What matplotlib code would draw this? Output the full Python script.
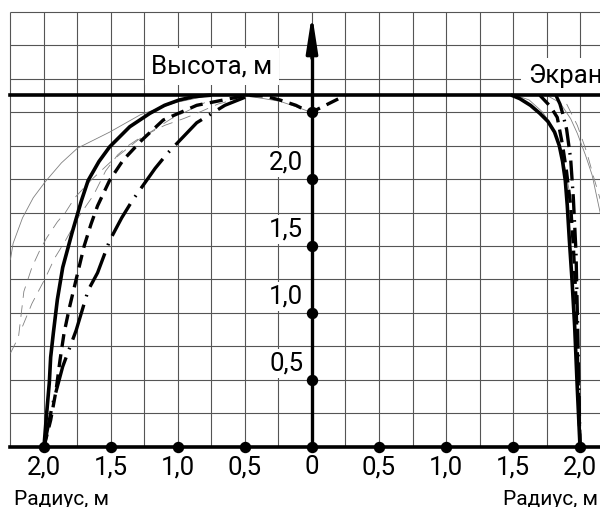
import numpy as np
import matplotlib
matplotlib.use("Agg")
import matplotlib.pyplot as plt

plt.rcParams['font.family'] = ['Roboto', 'DejaVu Sans']

# --- axis ticks and labels ---
x_ticks = [-2.0, -1.5, -1.0, -0.5, 0.0, 0.5, 1.0, 1.5, 2.0]
x_labels = ['2,0', '1,5', '1,0', '0,5', '0', '0,5', '1,0', '1,5', '2,0']
y_ticks = [0.5, 1.0, 1.5, 2.0, 2.5]
y_labels = ['0,5', '1,0', '1,5', '2,0']
screen_h = 2.625

# --- left side profiles (radius, height) ---
left_solid_x = [-2.00, -1.98, -1.96, -1.95, -1.93, -1.90, -1.86, -1.79, -1.72, -1.67, -1.59, -1.51, -1.43,
                -1.36, -1.21, -1.10, -0.99, -0.88, -0.76]
left_solid_y = [0.00, 0.25, 0.48, 0.67, 0.85, 1.10, 1.34, 1.60, 1.84, 1.99, 2.13, 2.24, 2.32,
                2.39, 2.49, 2.55, 2.59, 2.615, 2.625]

left_dash_x = [-2.00, -1.95, -1.91, -1.88, -1.85, -1.81, -1.76, -1.70, -1.65, -1.60, -1.51, -1.41, -1.27,
               -1.11, -0.86, -0.61, -0.49, -0.36, -0.24, -0.12, -0.04, 0.00, 0.25]
left_dash_y = [0.00, 0.20, 0.42, 0.65, 0.85, 1.04, 1.25, 1.50, 1.66, 1.80, 1.99, 2.14, 2.29,
               2.44, 2.55, 2.60, 2.625, 2.62, 2.59, 2.55, 2.51, 2.50, 2.625]

left_dashdot_x = [-2.00, -1.94, -1.86, -1.76, -1.67, -1.60, -1.51, -1.42, -1.34, -1.17, -1.08, -0.86, -0.65, -0.50]
left_dashdot_y = [0.00, 0.30, 0.60, 0.87, 1.17, 1.30, 1.54, 1.71, 1.84, 2.08, 2.19, 2.42, 2.55, 2.61]

thin_arc_x = [-2.25, -2.23, -2.16, -2.08, -1.99, -1.87, -1.75, -1.63, -1.51, -1.28, -1.02, -0.76]
thin_arc_y = [1.40, 1.52, 1.71, 1.86, 1.98, 2.12, 2.23, 2.29, 2.35, 2.48, 2.57, 2.625]

thin_a_x = [-2.25, -2.19, -2.15, -2.09, -2.03, -1.98, -1.90, -1.84, -1.77, -1.65, -1.50, -1.30, -1.05, -0.80]
thin_a_y = [0.70, 0.82, 1.16, 1.34, 1.47, 1.56, 1.68, 1.75, 1.86, 1.99, 2.13, 2.29, 2.45, 2.57]

thin_b_x = [-2.16, -2.09, -1.99, -1.92, -1.84, -1.74, -1.63, -1.54, -1.45, -1.37, -1.28, -1.10, -0.96, -0.86, -0.70, -0.55]
thin_b_y = [0.90, 1.07, 1.26, 1.41, 1.54, 1.72, 1.88, 2.06, 2.18, 2.25, 2.31, 2.40, 2.45, 2.49, 2.56, 2.60]

cap_x = [-0.65, -0.49, -0.36, -0.24, -0.12, -0.04, 0.00]
cap_y = [2.625, 2.62, 2.60, 2.58, 2.54, 2.51, 2.50]

# --- right side profiles ---
right_solid_x = [1.49, 1.55, 1.63, 1.70, 1.76, 1.81, 1.845, 1.87, 1.89, 1.905, 1.92, 1.94, 1.96, 1.98, 2.00]
right_solid_y = [2.625, 2.60, 2.55, 2.49, 2.43, 2.35, 2.25, 2.13, 1.99, 1.80, 1.55, 1.25, 0.90, 0.43, 0.00]

right_dash_x = [1.70, 1.78, 1.83, 1.87, 1.90, 1.93, 1.95, 1.97, 1.98, 1.99, 2.00]
right_dash_y = [2.625, 2.54, 2.46, 2.25, 2.05, 1.80, 1.50, 1.10, 0.70, 0.35, 0.00]

right_dashdot_x = [1.82, 1.85, 1.87, 1.90, 1.93, 1.95, 1.97, 1.98, 1.99, 2.00]
right_dashdot_y = [2.625, 2.56, 2.49, 2.37, 2.15, 1.86, 1.45, 1.00, 0.50, 0.00]

right_thin_a_x = [1.52, 1.62, 1.72, 1.80, 1.86, 1.90, 1.93]
right_thin_a_y = [2.625, 2.59, 2.50, 2.38, 2.22, 2.02, 1.85]
right_thin_b_x = [1.75, 1.85, 1.93, 1.98, 2.04, 2.09, 2.15]
right_thin_b_y = [2.625, 2.57, 2.45, 2.34, 2.18, 2.03, 1.75]
right_thin_c_x = [1.90, 1.98, 2.05, 2.10, 2.15]
right_thin_c_y = [2.56, 2.40, 2.20, 2.02, 1.85]

GRID = '#555555'
THIN = '#808080'

fig = plt.figure(figsize=(6, 5.07), dpi=100)
ax = fig.add_axes([0, 0, 1, 1])
ax.set_xlim(-2.328, 2.149)
ax.set_ylim(-0.448, 3.336)
ax.axis('off')

# grid paper
gx = np.arange(-2.25, 2.5, 0.25)
gy = np.arange(0.25, 3.3, 0.25)
ax.vlines(gx, 0, 3.25, color=GRID, lw=0.8, zorder=1)
ax.hlines(gy, -2.25, 2.4, color=GRID, lw=0.8, zorder=1)

# thin auxiliary profiles
thin_kw = dict(color=THIN, lw=0.6, zorder=3)
ax.plot(thin_arc_x, thin_arc_y, **thin_kw)
ax.plot(thin_a_x, thin_a_y, dashes=(14, 9), **thin_kw)
ax.plot(thin_b_x, thin_b_y, dashes=(14, 9), **thin_kw)
ax.plot(cap_x, cap_y, **thin_kw)
ax.plot(right_thin_a_x, right_thin_a_y, **thin_kw)
ax.plot(right_thin_b_x, right_thin_b_y, **thin_kw)
ax.plot(right_thin_c_x, right_thin_c_y, dashes=(14, 9), **thin_kw)

# main profiles
ax.plot(left_solid_x, left_solid_y, color='k', lw=2.6, zorder=4, solid_capstyle='round')
ax.plot(left_dash_x, left_dash_y, color='k', lw=2.4, dashes=(3.9, 2.2), zorder=4)
ax.plot(left_dashdot_x, left_dashdot_y, color='k', lw=2.4, dashes=(11, 2.6, 0.5, 2.6), zorder=4)
ax.plot(right_solid_x, right_solid_y, color='k', lw=2.6, zorder=4, solid_capstyle='round')
ax.plot(right_dash_x, right_dash_y, color='k', lw=2.4, dashes=(3.9, 2.2), zorder=4)
ax.plot(right_dashdot_x, right_dashdot_y, color='k', lw=2.4, dashes=(6, 1.8, 0.5, 1.8), zorder=4)

# axes, screen line and arrow
ax.plot([-2.25, 2.4], [0, 0], color='k', lw=2.6, zorder=5)
ax.plot([-2.25, 2.4], [screen_h, screen_h], color='k', lw=2.6, zorder=5)
ax.plot([0, 0], [0, 3.0], color='k', lw=2.4, zorder=5)
ax.annotate('', xy=(0, 3.23), xytext=(0, 2.9),
            arrowprops=dict(arrowstyle='-|>,head_length=1.1,head_width=0.17',
                            mutation_scale=20, color='k', lw=2.4,
                            shrinkA=0, shrinkB=0), zorder=5)

# tick dots
ax.plot(x_ticks, [0] * len(x_ticks), 'o', color='k', ms=7.2, zorder=6)
ax.plot([0] * len(y_ticks), y_ticks, 'o', color='k', ms=7.2, zorder=6)

# labels
for x, lab in zip(x_ticks, x_labels):
    ax.text(x, -0.15, lab, ha='center', va='center', fontsize=18.5, zorder=7)
for y, lab in zip(y_ticks, y_labels):
    ax.text(-0.065, y + 0.125, lab, ha='right', va='center', fontsize=18.5, zorder=7,
            bbox=dict(boxstyle='square,pad=0.1', facecolor='white', edgecolor='none'))

box = dict(boxstyle='square,pad=0.25', facecolor='white', edgecolor='none')
ax.text(-1.20, 2.79, 'Высота, м', ha='left', va='baseline', fontsize=18.5, bbox=box, zorder=2)
ax.text(1.61, 2.716, 'Экран', ha='left', va='baseline', fontsize=18.5, bbox=box, zorder=2)
ax.text(-2.224, -0.433, 'Радиус, м', ha='left', va='baseline', fontsize=15)
ax.text(1.425, -0.433, 'Радиус, м', ha='left', va='baseline', fontsize=15)

fig.savefig('out.png', dpi=100, facecolor='white')
